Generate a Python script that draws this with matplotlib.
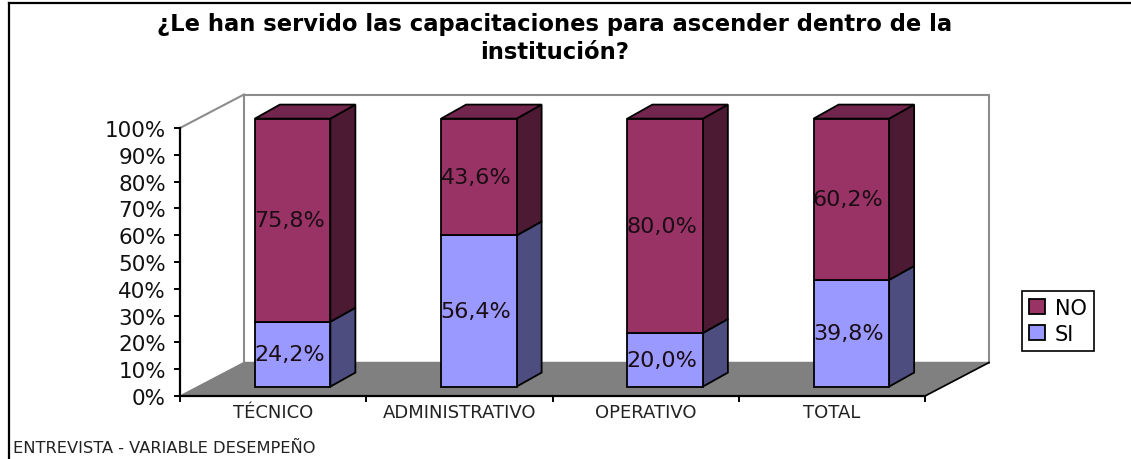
import matplotlib
matplotlib.use('Agg')
import numpy as np
import matplotlib.pyplot as plt
from matplotlib.patches import Polygon
from matplotlib.lines import Line2D

categories = ['TÉCNICO', 'ADMINISTRATIVO', 'OPERATIVO', 'TOTAL']
si = [24.2, 56.4, 20.0, 39.8]
no = [75.8, 43.6, 80.0, 60.2]
ytick_values = [0, 10, 20, 30, 40, 50, 60, 70, 80, 90, 100]
ytick_labels = ['0%', '10%', '20%', '30%', '40%', '50%', '60%', '70%', '80%', '90%', '100%']
title_text = '¿Le han servido las capacitaciones para ascender dentro de la\ninstitución?'
footer_text = 'ENTREVISTA - VARIABLE DESEMPEÑO'

W, H = 1131, 460
plt.rcParams['font.family'] = ['DejaVu Sans']

fig = plt.figure(figsize=(W / 100, H / 100), dpi=100)
# front plane of the fake 3d box, in pixels from the top left
left, right, top, bottom = 180, 925, 129, 397
ax = fig.add_axes([left / W, 1 - bottom / H, (right - left) / W, (bottom - top) / H])
ax.set_xlim(0, 4)
ax.set_ylim(0, 100)
ax.patch.set_visible(False)

px_x = (right - left) / 4
px_y = (bottom - top) / 100

def depth(x, y, dx, dy):
    # move a data point back into the box, dx and dy in pixels
    return (x + dx / px_x, y + dy / px_y)

# back wall and floor
wall = [depth(0, 0, 64, 33.5), depth(4, 0, 64, 33.5), depth(4, 100, 64, 33.5), depth(0, 100, 64, 33.5)]
ax.add_patch(Polygon(wall, closed=True, facecolor='white', edgecolor='#8c8c8c', lw=1.5, clip_on=False, zorder=0.5))
floor = [(0, 0), (4, 0), depth(4, 0, 64, 33.5), depth(0, 0, 64, 33.5)]
ax.add_patch(Polygon(floor, closed=True, facecolor='#808080', edgecolor='#808080', lw=1, clip_on=False, zorder=0.6))
p = depth(0, 100, 64, 33.5)
ax.plot([0, p[0]], [100, p[1]], color='#8c8c8c', lw=1.5, clip_on=False, zorder=0.7)
p = depth(4, 0, 64, 33.5)
ax.plot([4, p[0]], [0, p[1]], color='black', lw=1.2, clip_on=False, zorder=0.7)

ind = np.arange(4) + 0.5
off_x = 19.5 / px_x
off_y = 9.4 / px_y
width = 75.5 / px_x
d_x, d_y = 25, 14

p_si = None
p_no = None
for i in range(4):
    x0 = ind[i] + off_x - width / 2
    x1 = x0 + width
    base = off_y
    for val, col, side, name in [(si[i], '#9999ff', '#4d4d80', 'SI'), (no[i], '#993366', '#4d1a33', 'NO')]:
        side_pts = [(x1, base), depth(x1, base, d_x, d_y), depth(x1, base + val, d_x, d_y), (x1, base + val)]
        ax.add_patch(Polygon(side_pts, closed=True, facecolor=side, edgecolor='black', lw=1.3, clip_on=False, zorder=1))
        b = ax.bar(ind[i] + off_x, val, width, bottom=base, color=col, edgecolor='black', lw=1.3, clip_on=False, zorder=1.1)
        if name == 'SI':
            p_si = b[0]
        else:
            p_no = b[0]
        ax.text(ind[i] + off_x - 3 / px_x, base + val / 2, ('%.1f%%' % val).replace('.', ','),
                ha='center', va='center', fontsize=16, color='#1a0d14', zorder=3)
        base = base + val
    top_pts = [(x0, base), (x1, base), depth(x1, base, d_x, d_y), depth(x0, base, d_x, d_y)]
    ax.add_patch(Polygon(top_pts, closed=True, facecolor='#73264d', edgecolor='black', lw=1.3, clip_on=False, zorder=1))

for s in ['top', 'right']:
    ax.spines[s].set_visible(False)
for s in ['left', 'bottom']:
    ax.spines[s].set_linewidth(1.6)

ax.set_yticks(ytick_values)
ax.set_yticklabels(ytick_labels, fontsize=15.5)
ax.tick_params(axis='y', length=4, width=1.4, pad=6, labelcolor='#111111')
ax.set_xticks([0, 1, 2, 3, 4])
ax.set_xticklabels([])
ax.tick_params(axis='x', which='major', length=4, width=1.4)
ax.set_xticks(ind, minor=True)
ax.set_xticklabels(categories, minor=True, fontsize=13)
ax.tick_params(axis='x', which='minor', length=0, pad=5, labelcolor='#222222')

leg = ax.legend([p_no, p_si], ['NO', 'SI'], loc='center', bbox_to_anchor=(1058 / W, 1 - 322 / H),
                bbox_transform=fig.transFigure, fontsize=15, fancybox=False, framealpha=1,
                edgecolor='black', handlelength=0.75, handleheight=0.75, handletextpad=0.5,
                borderpad=0.35, labelspacing=0.3, borderaxespad=0)
leg.get_frame().set_linewidth(1.2)

fig.text(554.5 / W, 1 - 38.5 / H, title_text, ha='center', va='center', fontsize=16.3, fontweight='bold', linespacing=1.25)
fig.text(13 / W, 1 - 448 / H, footer_text, ha='left', va='center', fontsize=11.7, color='#222222')

# chart area border, only top and left show in the original
fig.add_artist(Line2D([8.5 / W, 8.5 / W], [0, 1 - 3.5 / H], color='black', lw=1.6, transform=fig.transFigure))
fig.add_artist(Line2D([8.5 / W, 1], [1 - 3.5 / H, 1 - 3.5 / H], color='black', lw=1.6, transform=fig.transFigure))

fig.savefig('out.png', dpi=100)
